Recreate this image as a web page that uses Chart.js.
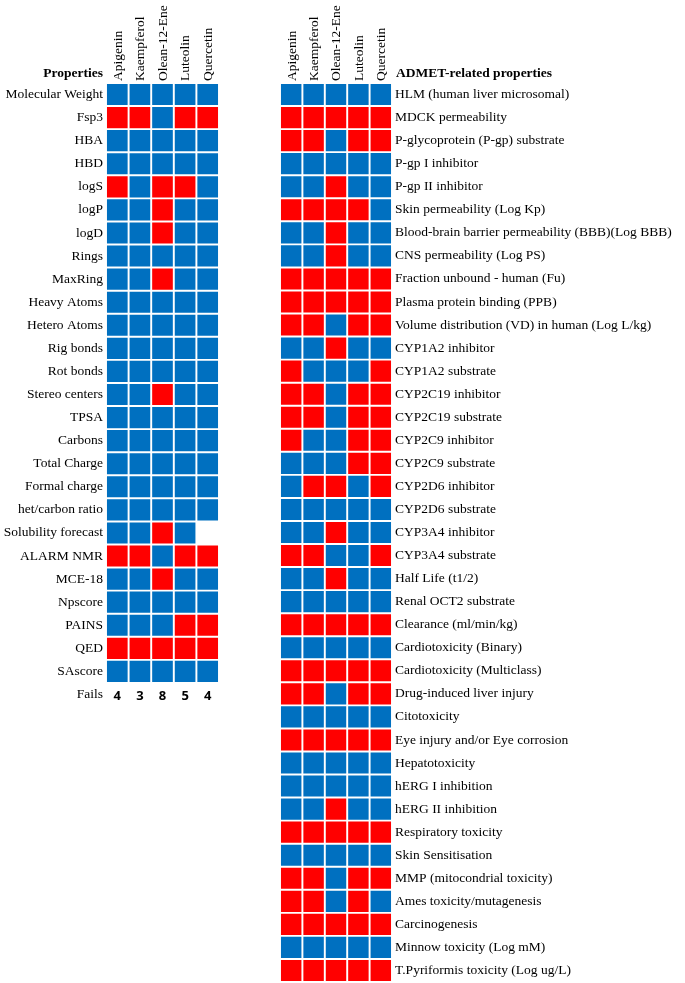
<!DOCTYPE html>
<html lang="en">

<head>
    <meta charset="UTF-8">
    <title>Drug-likeness and ADMET properties</title>
    <script src="https://cdn.jsdelivr.net/npm/chart.js"></script>
    <style>
        body { margin: 0; background: #fff; }
        canvas { position: absolute; top: 0; }
        #leftChart { left: 0; }
        #rightChart { left: 270px; }
    </style>
</head>

<body>
    <canvas id="leftChart" width="226" height="706"></canvas>
    <canvas id="rightChart" width="415" height="983"></canvas>

    <script>
        // Compounds (columns)
        const compounds = ['Apigenin', 'Kaempferol', 'Olean-12-Ene', 'Luteolin', 'Quercetin'];

        // Left panel: physicochemical / medchem properties (1 = fail, 0 = pass, null = no data)
        const propLabels = ['Molecular Weight', 'Fsp3', 'HBA', 'HBD', 'logS', 'logP', 'logD', 'Rings',
            'MaxRing', 'Heavy Atoms', 'Hetero Atoms', 'Rig bonds', 'Rot bonds', 'Stereo centers', 'TPSA',
            'Carbons', 'Total Charge', 'Formal charge', 'het/carbon ratio', 'Solubility forecast',
            'ALARM NMR', 'MCE-18', 'Npscore', 'PAINS', 'QED', 'SAscore'];
        const apigeninProps   = [0,1,0,0,1,0,0,0,0,0,0,0,0,0,0,0,0,0,0,0,1,0,0,0,1,0];
        const kaempferolProps = [0,1,0,0,0,0,0,0,0,0,0,0,0,0,0,0,0,0,0,0,1,0,0,0,1,0];
        const oleanProps      = [0,0,0,0,1,1,1,0,1,0,0,0,0,1,0,0,0,0,0,1,0,1,0,0,1,0];
        const luteolinProps   = [0,1,0,0,1,0,0,0,0,0,0,0,0,0,0,0,0,0,0,0,1,0,0,1,1,0];
        const quercetinProps  = [0,1,0,0,0,0,0,0,0,0,0,0,0,0,0,0,0,0,0,null,1,0,0,1,1,0];
        const failCounts = [4, 3, 8, 5, 4];

        // Right panel: ADMET-related properties
        const admetLabels = ['HLM (human liver microsomal)', 'MDCK permeability', 'P-glycoprotein (P-gp) substrate',
            'P-gp I inhibitor', 'P-gp II inhibitor', 'Skin permeability (Log Kp)',
            'Blood-brain barrier permeability (BBB)(Log BBB)', 'CNS permeability (Log PS)',
            'Fraction unbound - human (Fu)', 'Plasma protein binding (PPB)',
            'Volume distribution (VD) in human (Log L/kg)', 'CYP1A2 inhibitor', 'CYP1A2 substrate',
            'CYP2C19 inhibitor', 'CYP2C19 substrate', 'CYP2C9 inhibitor', 'CYP2C9 substrate',
            'CYP2D6 inhibitor', 'CYP2D6 substrate', 'CYP3A4 inhibitor', 'CYP3A4 substrate',
            'Half Life (t1/2)', 'Renal OCT2 substrate', 'Clearance (ml/min/kg)', 'Cardiotoxicity (Binary)',
            'Cardiotoxicity (Multiclass)', 'Drug-induced liver injury', 'Citotoxicity',
            'Eye injury and/or Eye corrosion', 'Hepatotoxicity', 'hERG I inhibition', 'hERG II inhibition',
            'Respiratory toxicity', 'Skin Sensitisation', 'MMP (mitocondrial toxicity)',
            'Ames toxicity/mutagenesis', 'Carcinogenesis', 'Minnow toxicity (Log mM)',
            'T.Pyriformis toxicity (Log ug/L)'];
        const apigeninAdmet   = [0,1,1,0,0,1,0,0,1,1,1,0,1,1,1,1,0,0,0,0,1,0,0,1,0,1,1,0,1,0,0,0,1,0,1,1,1,0,1];
        const kaempferolAdmet = [0,1,1,0,0,1,0,0,1,1,1,0,0,1,1,0,0,1,0,0,1,0,0,1,0,1,1,0,1,0,0,0,1,0,1,1,1,0,1];
        const oleanAdmet      = [0,1,0,0,1,1,1,1,1,1,0,1,0,0,0,0,0,1,0,1,0,1,0,1,0,1,0,0,1,0,0,1,1,0,0,0,1,0,1];
        const luteolinAdmet   = [0,1,1,0,0,1,0,0,1,1,1,0,0,1,1,1,1,0,0,0,0,0,0,1,0,1,1,0,1,0,0,0,1,0,1,1,1,0,1];
        const quercetinAdmet  = [0,1,1,0,0,0,0,0,1,1,1,0,1,1,1,1,1,1,0,0,1,0,0,1,0,1,1,0,1,0,0,0,1,0,1,0,1,0,1];

        const RED = '#ff0000';
        const BLUE = '#0070c0';
        const SERIF = "'Liberation Serif', 'Times New Roman', serif";

        // each compound is one stacked dataset, every cell is a bar of width 1
        function makeDatasets(columns) {
            return columns.map((col, i) => ({
                label: compounds[i],
                data: col.map(v => v === null ? null : 1),
                backgroundColor: col.map(v => v ? RED : BLUE),
                borderColor: '#ffffff',
                borderWidth: 1.3,
                borderSkipped: false,
                barPercentage: 1,
                categoryPercentage: 1
            }));
        }

        function makeOptions(yPosition, yWidth, padding) {
            return {
                indexAxis: 'y',
                responsive: false,
                animation: false,
                layout: { padding: padding },
                plugins: { legend: { display: false }, tooltip: { enabled: false } },
                scales: {
                    x: { display: false, stacked: true, min: 0, max: compounds.length },
                    top: {
                        type: 'category',
                        labels: compounds,
                        position: 'top',
                        offset: true,
                        grid: { display: false, drawTicks: false },
                        border: { display: false },
                        ticks: { minRotation: 90, maxRotation: 90, padding: 2, labelOffset: 17, color: '#000',
                            font: { family: SERIF, size: 13.5 } },
                        afterFit: s => {
                            s.height = 83;
                            s.paddingLeft = 0; s.paddingRight = 0;
                        }
                    },
                    y: {
                        position: yPosition,
                        stacked: true,
                        grid: { display: false, drawTicks: false },
                        border: { display: false },
                        ticks: { autoSkip: false, padding: 3, color: '#000',
                            font: { family: SERIF, size: 13.5 } },
                        afterFit: s => {
                            s.width = yWidth;
                            s.paddingTop = 0; s.paddingBottom = 0;
                        }
                    }
                }
            };
        }

        // bold panel heading beside the column names
        function headingPlugin(text, side) {
            return {
                id: 'heading',
                afterDraw(chart) {
                    const { ctx, chartArea } = chart;
                    ctx.save();
                    ctx.font = 'bold 13.5px ' + SERIF;
                    ctx.fillStyle = '#000';
                    ctx.textBaseline = 'middle';
                    if (side === 'left') {
                        ctx.textAlign = 'right';
                        ctx.fillText(text, chartArea.left - 3, chartArea.top - 9);
                    } else {
                        ctx.textAlign = 'left';
                        ctx.fillText(text, chartArea.right + 4, chartArea.top - 9);
                    }
                    ctx.restore();
                }
            };
        }

        // fail counts written in the "Fails" row
        const failsPlugin = {
            id: 'fails',
            afterDatasetsDraw(chart) {
                const { ctx, scales } = chart;
                const yRow = scales.y.getPixelForValue(propLabels.length);
                ctx.save();
                ctx.font = "bold 13px 'Open Sans', 'Liberation Sans', sans-serif";
                ctx.fillStyle = '#000';
                ctx.textAlign = 'center';
                ctx.textBaseline = 'middle';
                failCounts.forEach((n, i) => {
                    ctx.fillText(String(n), scales.x.getPixelForValue(i + 0.5), yRow + 2);
                });
                ctx.restore();
            }
        };

        new Chart(document.getElementById('leftChart'), {
            type: 'bar',
            data: {
                labels: propLabels.concat(['Fails']),
                datasets: makeDatasets([apigeninProps, kaempferolProps, oleanProps, luteolinProps, quercetinProps])
                    .map(ds => Object.assign(ds, { data: ds.data.concat([null]) }))
            },
            options: makeOptions('left', 106, { left: 0, right: 7, top: 0, bottom: 0 }),
            plugins: [headingPlugin('Properties', 'left'), failsPlugin]
        });

        new Chart(document.getElementById('rightChart'), {
            type: 'bar',
            data: {
                labels: admetLabels,
                datasets: makeDatasets([apigeninAdmet, kaempferolAdmet, oleanAdmet, luteolinAdmet, quercetinAdmet])
            },
            options: makeOptions('right', 293, { left: 10, right: 0, top: 0, bottom: 1 }),
            plugins: [headingPlugin('ADMET-related properties', 'right')]
        });
    </script>
</body>

</html>
